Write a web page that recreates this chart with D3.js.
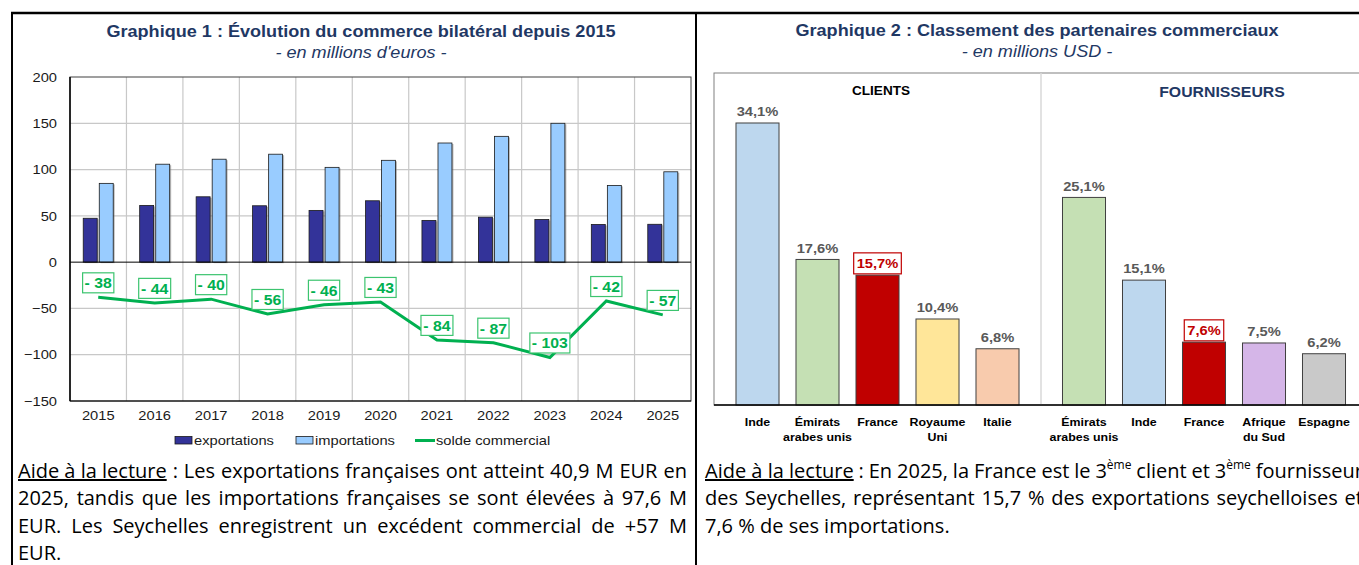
<!DOCTYPE html>
<html lang="fr">
<head>
<meta charset="utf-8">
<title>Commerce bilatéral France – Seychelles</title>
<script src="https://cdn.jsdelivr.net/npm/d3@7"></script>
<style>
  body { margin: 0; background: #fff; overflow: hidden; }
  #page { position: relative; width: 1359px; height: 565px; overflow: hidden; }
  svg { position: absolute; left: 0; top: 0; }
  svg text { font-family: "Liberation Sans", Arial, sans-serif; }
  .lecture { position: absolute; font-family: "Open Sans", sans-serif; font-size: 20px; color: #000; }
  .ligne { display: flex; justify-content: space-between; white-space: nowrap; height: 27.3px; line-height: 27.3px; }
  .fin { white-space: pre; height: 27.3px; line-height: 27.3px; }
  .ul { text-decoration: underline; }
  sup { font-size: 0.6em; line-height: 0; vertical-align: 0.75em; }
</style>
</head>
<body>
<div id="page"></div>
<script>
// ---- data ----
var years = ["2015", "2016", "2017", "2018", "2019", "2020", "2021", "2022", "2023", "2024", "2025"];
var exportations = [47.4, 61.3, 70.6, 60.9, 55.9, 66.3, 45.1, 48.6, 46.1, 40.7, 40.9];
var importations = [85.1, 105.8, 111.2, 116.6, 102.4, 110.0, 128.7, 135.9, 150.0, 82.9, 97.6];
var solde = [-38, -44, -40, -56, -46, -43, -84, -87, -103, -42, -57];
var yTicks = [-150, -100, -50, 0, 50, 100, 150, 200];

var clients = ["Inde", "Émirats\narabes unis", "France", "Royaume\nUni", "Italie"];
var clientsPart = [34.1, 17.6, 15.7, 10.4, 6.8];
var fournisseurs = ["Émirats\narabes unis", "Inde", "France", "Afrique\ndu Sud", "Espagne"];
var fournisseursPart = [25.1, 15.1, 7.6, 7.5, 6.2];

// text in the source picture is stretched horizontally
var SX = 1.13;

var page = d3.select("#page");
var svg = page.append("svg").attr("width", 1359).attr("height", 565);

function txt(g, x, y, s) {
  return g.append("text")
    .attr("transform", "translate(" + x + "," + y + ") scale(" + SX + ",1)")
    .text(s);
}

// page frame
svg.append("line").attr("x1", 11).attr("x2", 1359).attr("y1", 13).attr("y2", 13).attr("stroke", "#000").attr("stroke-width", 2.5);
svg.append("line").attr("x1", 12).attr("x2", 12).attr("y1", 12).attr("y2", 565).attr("stroke", "#000").attr("stroke-width", 2);
svg.append("line").attr("x1", 696).attr("x2", 696).attr("y1", 12).attr("y2", 565).attr("stroke", "#000").attr("stroke-width", 2);

// ================= Graphique 1 =================
var g1 = svg.append("g");
txt(g1, 361, 36.7, "Graphique 1 : Évolution du commerce bilatéral depuis 2015")
  .attr("text-anchor", "middle").attr("font-weight", "bold").attr("font-size", 16).attr("fill", "#1F3864");
txt(g1, 361, 57.5, "- en millions d'euros -")
  .attr("text-anchor", "middle").attr("font-style", "italic").attr("font-size", 16).attr("fill", "#1F3864");

var pL = 70, pR = 691, pT = 77, pB = 401;
var x = d3.scaleBand().domain(years).range([pL, pR]);
var y = d3.scaleLinear().domain([-150, 200]).range([pB, pT]);
var bw = x.bandwidth();
var xs = d3.scaleBand().domain(["exp", "imp"]).range([bw / 2 - 15, bw / 2 + 15]).paddingInner(0.13);

// grid
g1.selectAll(".hgrid").data(yTicks.filter(function(d) { return d > -150 && d < 200 && d !== 0; }))
  .enter().append("line")
    .attr("x1", pL).attr("x2", pR)
    .attr("y1", function(d) { return y(d); }).attr("y2", function(d) { return y(d); })
    .attr("stroke", "#C8C8C8").attr("stroke-width", 1.2);
g1.selectAll(".vgrid").data(years.slice(1))
  .enter().append("line")
    .attr("x1", function(d) { return x(d); }).attr("x2", function(d) { return x(d); })
    .attr("y1", pT).attr("y2", pB)
    .attr("stroke", "#C8C8C8").attr("stroke-width", 1.2);
g1.append("rect").attr("x", pL).attr("y", pT).attr("width", pR - pL).attr("height", pB - pT)
  .attr("fill", "none").attr("stroke", "#404040");

// bars
var rows = years.map(function(d, i) { return {year: d, exp: exportations[i], imp: importations[i], solde: solde[i]}; });
var barColor = {exp: "#333399", imp: "#99CCFF"};
["exp", "imp"].forEach(function(k) {
  g1.selectAll(".shadow-" + k).data(rows).enter().append("rect")
    .attr("x", function(d) { return x(d.year) + xs(k) + 1.5; })
    .attr("y", function(d) { return y(d[k]) + 1; })
    .attr("width", xs.bandwidth())
    .attr("height", function(d) { return y(0) - y(d[k]); })
    .attr("fill", "#7f7f7f").attr("opacity", 0.55);
  g1.selectAll(".bar-" + k).data(rows).enter().append("rect")
    .attr("x", function(d) { return x(d.year) + xs(k); })
    .attr("y", function(d) { return y(d[k]); })
    .attr("width", xs.bandwidth())
    .attr("height", function(d) { return y(0) - y(d[k]); })
    .attr("fill", barColor[k]).attr("stroke", "#1a1a1a").attr("stroke-width", 0.8);
});

// zero line and axes lines
g1.append("line").attr("x1", pL).attr("x2", pR).attr("y1", y(0)).attr("y2", y(0)).attr("stroke", "#000");
g1.append("line").attr("x1", pL).attr("x2", pL).attr("y1", pT).attr("y2", pB).attr("stroke", "#000").attr("stroke-width", 1.5);
g1.append("line").attr("x1", pL).attr("x2", pR).attr("y1", pB).attr("y2", pB).attr("stroke", "#000").attr("stroke-width", 1.2);

var yAxis = g1.append("g").attr("transform", "translate(" + pL + ",0)")
  .call(d3.axisLeft(y).tickValues(yTicks).tickSize(0).tickPadding(11.5));
yAxis.select(".domain").remove();
yAxis.attr("font-size", 13).selectAll("text").attr("transform", "scale(" + SX + ",1)").attr("fill", "#1a1a1a");

var xAxis = g1.append("g").attr("transform", "translate(0," + pB + ")")
  .call(d3.axisBottom(x).tickSize(0).tickPadding(9.5));
xAxis.select(".domain").remove();
xAxis.attr("font-size", 13).selectAll("text").attr("transform", "scale(" + SX + ",1)").attr("fill", "#1a1a1a");

// solde line
var line = d3.line()
  .x(function(d) { return x(d.year) + bw / 2; })
  .y(function(d) { return y(d.solde); });
g1.append("path").datum(rows).attr("d", line)
  .attr("fill", "none").attr("stroke", "#00B050").attr("stroke-width", 3);

// solde labels
rows.forEach(function(d) {
  var cx = x(d.year) + bw / 2, base = y(d.solde) - 9;
  var lg = g1.append("g");
  var box = lg.append("rect");
  var t = txt(lg, cx, base, "- " + Math.abs(d.solde))
    .attr("text-anchor", "middle").attr("font-weight", "bold").attr("font-size", 14).attr("fill", "#00B050");
  var w = t.node().getBBox().width * SX + 4;
  box.attr("x", cx - w / 2).attr("y", base - 15.5).attr("width", w).attr("height", 20)
    .attr("fill", "#fff").attr("stroke", "#3CC46F").attr("stroke-width", 1.2);
});

// legend
var lg1 = g1.append("g").attr("font-size", 13);
lg1.append("rect").attr("x", 175).attr("y", 436.5).attr("width", 17).attr("height", 7.5).attr("fill", barColor.exp).attr("stroke", "#1a1a1a").attr("stroke-width", 0.8);
txt(lg1, 194, 445.3, "exportations").attr("fill", "#1a1a1a");
lg1.append("rect").attr("x", 296).attr("y", 436.5).attr("width", 17).attr("height", 7.5).attr("fill", barColor.imp).attr("stroke", "#1a1a1a").attr("stroke-width", 0.8);
txt(lg1, 315, 445.3, "importations").attr("fill", "#1a1a1a");
lg1.append("line").attr("x1", 415).attr("x2", 435).attr("y1", 440.5).attr("y2", 440.5).attr("stroke", "#00B050").attr("stroke-width", 3);
txt(lg1, 436, 445.3, "solde commercial").attr("fill", "#1a1a1a");

// ================= Graphique 2 =================
var g2 = svg.append("g");
txt(g2, 1037, 35.5, "Graphique 2 : Classement des partenaires commerciaux")
  .attr("text-anchor", "middle").attr("font-weight", "bold").attr("font-size", 16).attr("fill", "#1F3864");
txt(g2, 1037, 56.5, "- en millions USD -")
  .attr("text-anchor", "middle").attr("font-style", "italic").attr("font-size", 16).attr("fill", "#1F3864");

var rTop = 73, rBottom = 405, rLeft = 714;
g2.append("rect").attr("x", rLeft).attr("y", rTop).attr("width", 720).attr("height", rBottom - rTop)
  .attr("fill", "none").attr("stroke", "#808080");
g2.append("line").attr("x1", 1041).attr("x2", 1041).attr("y1", rTop).attr("y2", rBottom)
  .attr("stroke", "#D9D9D9").attr("stroke-width", 1.5);

txt(g2, 881, 95.3, "CLIENTS").attr("text-anchor", "middle").attr("font-weight", "bold").attr("font-size", 12).attr("fill", "#000");
txt(g2, 1222, 97, "FOURNISSEURS").attr("text-anchor", "middle").attr("font-weight", "bold").attr("font-size", 14).attr("fill", "#1F3864");

var yR = d3.scaleLinear().domain([0, 40]).range([rBottom, rBottom - 40 * 8.27]);
var partnerColor = d3.scaleOrdinal()
  .domain(["Inde", "Émirats arabes unis", "France", "Royaume Uni", "Italie", "Afrique du Sud", "Espagne"])
  .range(["#BDD7EE", "#C5E0B4", "#C00000", "#FFE699", "#F8CBAD", "#D5B6E8", "#C9C9C9"]);
var pct = function(v) { return d3.format(".1f")(v).replace(".", ",") + "%"; };

function panel(names, values, range) {
  var xb = d3.scaleBand().domain(names).range(range).paddingInner(0.283).paddingOuter(0.1415);
  var data = names.map(function(n, i) { return {name: n, key: n.replace("\n", " "), v: values[i]}; });
  g2.selectAll(null).data(data).enter().append("rect")
    .attr("x", function(d) { return xb(d.name); })
    .attr("y", function(d) { return yR(d.v); })
    .attr("width", xb.bandwidth())
    .attr("height", function(d) { return yR(0) - yR(d.v); })
    .attr("fill", function(d) { return partnerColor(d.key); })
    .attr("stroke", "#404040").attr("stroke-width", 1);
  data.forEach(function(d) {
    var cx = xb(d.name) + xb.bandwidth() / 2, base = yR(d.v) - 6.8;
    var isFr = d.key === "France";
    var box = g2.append("rect");
    var t = txt(g2, cx, base, pct(d.v)).attr("text-anchor", "middle").attr("font-weight", "bold")
      .attr("font-size", 13).attr("fill", isFr ? "#C00000" : "#595959");
    if (isFr) {
      var w = t.node().getBBox().width * SX + 6;
      box.attr("x", cx - w / 2).attr("y", base - 15.5).attr("width", w).attr("height", 21)
        .attr("fill", "#fff").attr("stroke", "#C00000").attr("stroke-width", 1.2);
    } else box.remove();
    d.name.split("\n").forEach(function(l, j) {
      txt(g2, cx, 426 + j * 15, l).attr("text-anchor", "middle").attr("font-weight", "bold")
        .attr("font-size", 11).attr("fill", "#000");
    });
  });
}
panel(clients, clientsPart, [727.5, 1027.5]);
panel(fournisseurs, fournisseursPart, [1054, 1354]);

g2.append("line").attr("x1", rLeft).attr("x2", 1359).attr("y1", rBottom).attr("y2", rBottom)
  .attr("stroke", "#000").attr("stroke-width", 1.5);

// ================= Aide à la lecture =================
function lecture(x0, width, lignes) {
  var box = page.append("div").attr("class", "lecture")
    .style("left", x0 + "px").style("top", "457px").style("width", width + "px");
  lignes.forEach(function(l, i) {
    var last = i === lignes.length - 1;
    var div = box.append("div").attr("class", last ? "fin" : "ligne");
    var rest = l;
    if (l.indexOf("Aide à la lecture") === 0) {
      div.append("span").attr("class", "ul").text("Aide à la lecture");
      rest = l.slice("Aide à la lecture ".length);
    }
    if (last) { div.append("span").text(rest); return; }
    rest.split(" ").forEach(function(w) {
      div.append("span").html(w.replace(/\^(\S+)/, "<sup>$1</sup>"));
    });
  });
}
lecture(18, 669, [
  "Aide à la lecture : Les exportations françaises ont atteint 40,9 M EUR en",
  "2025, tandis que les importations françaises se sont élevées à 97,6 M",
  "EUR. Les Seychelles enregistrent un excédent commercial de +57 M",
  "EUR."
]);
lecture(705, 658, [
  "Aide à la lecture : En 2025, la France est le 3^ème client et 3^ème fournisseur",
  "des Seychelles, représentant 15,7 % des exportations seychelloises et",
  "7,6 % de ses importations."
]);
</script>
</body>
</html>
